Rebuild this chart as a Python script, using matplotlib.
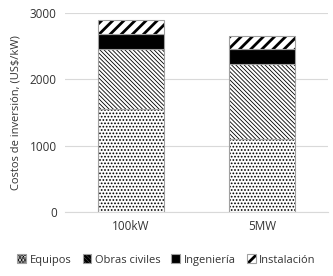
import matplotlib
matplotlib.use('Agg')
import matplotlib.pyplot as plt

categorias = ['100kW', '5MW']
equipos = [1560, 1100]
obras_civiles = [900, 1125]
ingenieria = [220, 225]
instalacion = [220, 200]

plt.rcParams['font.family'] = ['Open Sans', 'DejaVu Sans']

fig = plt.figure(figsize=(3.33, 2.76), dpi=100)
ax = fig.add_axes([65/333, 1 - 212/276, 263/333, 199/276])

x = range(len(categorias))
base = [0, 0]
series = [
    (equipos, 'Equipos', 'white', '.....', 0.8),
    (obras_civiles, 'Obras civiles', 'white', '\\' * 8, 0.6),
    (ingenieria, 'Ingeniería', 'black', None, 0.8),
    (instalacion, 'Instalación', 'white', '///', 2.0),
]
for vals, nombre, color, hatch, hlw in series:
    plt.rcParams['hatch.linewidth'] = hlw
    ax.bar(x, vals, 0.5, bottom=base, color=color, hatch=hatch,
           edgecolor='#a0a0a0', linewidth=0.8, label=nombre)
    base = [b + v for b, v in zip(base, vals)]

# hatch colour black
for p in ax.patches:
    p._hatch_color = (0, 0, 0, 1)

ax.set_xlim(-0.5, 1.5)
ax.set_ylim(0, 3000)
ax.set_yticks([0, 1000, 2000, 3000])
ax.set_xticks(list(x))
ax.set_xticklabels(categorias)
ax.yaxis.grid(True, color='#d9d9d9', linewidth=0.8)
ax.set_axisbelow(True)
for s in ['top', 'right', 'left']:
    ax.spines[s].set_visible(False)
ax.spines['bottom'].set_color('#d9d9d9')
ax.tick_params(length=0, labelsize=8.5, colors='#333333', pad=6)
ax.set_ylabel('Costos de inversión, (US\\$/kW)', fontsize=8, color='#333333', labelpad=6)

fig.legend(loc='center', bbox_to_anchor=(0.5, 1 - 260/276), ncol=4, frameon=False,
           fontsize=8, handlelength=0.8, handleheight=0.8, handletextpad=0.3,
           columnspacing=1.0, labelcolor='#333333')

fig.savefig('out.png', dpi=100)
